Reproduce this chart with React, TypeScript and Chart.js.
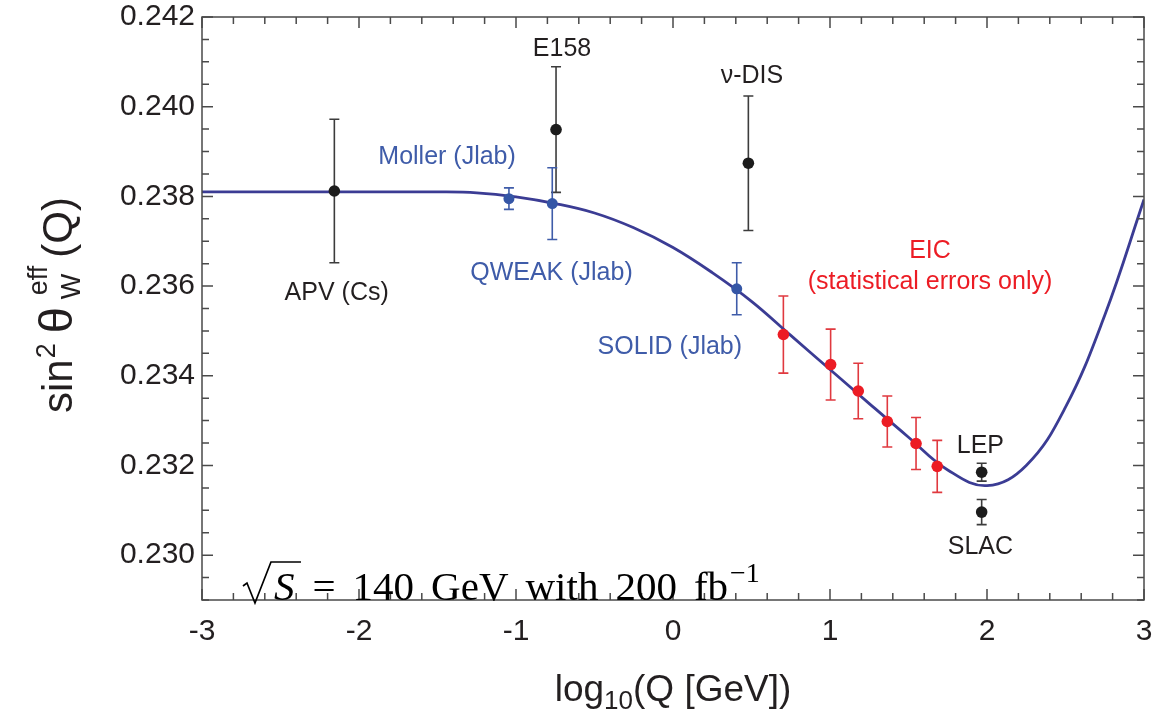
import React, { useEffect, useRef } from "react";
import { Chart, registerables } from "chart.js";

Chart.register(...registerables);

// ---------- data ----------
const xTickValues = [-3, -2, -1, 0, 1, 2, 3];
const yTickValues = [0.23, 0.232, 0.234, 0.236, 0.238, 0.24, 0.242];

// theory curve sin^2 theta_W(Q)
const curveX = [
  -3.0, -2.5, -2.0, -1.5, -1.25, -1.0, -0.75, -0.5, -0.25, 0.0, 0.25, 0.5, 0.75, 1.0, 1.25, 1.5,
  1.75, 2.0, 2.25, 2.5, 2.75, 3.0,
];
const curveY = [
  0.2381, 0.2381, 0.2381, 0.2381, 0.23808, 0.23799, 0.23784, 0.23763, 0.2373, 0.23686, 0.2363,
  0.23566, 0.2349, 0.23414, 0.23338, 0.23263, 0.2319, 0.23155, 0.232, 0.2333, 0.23535, 0.23793,
];

// existing measurements (black)
const measNames = ["APV (Cs)", "E158", "ν-DIS", "LEP", "SLAC"];
const measX = [-2.157, -0.745, 0.48, 1.966, 1.966];
const measY = [0.23812, 0.23949, 0.23874, 0.23185, 0.23096];
const measErr = [0.0016, 0.0014, 0.0015, 0.0002, 0.00028];

// JLab projections (blue)
const jlabNames = ["Moller (Jlab)", "QWEAK (Jlab)", "SOLID (Jlab)"];
const jlabX = [-1.045, -0.769, 0.406];
const jlabY = [0.23795, 0.23784, 0.23594];
const jlabErr = [0.00024, 0.0008, 0.00058];

// EIC projections (red)
const eicX = [0.703, 1.004, 1.18, 1.365, 1.548, 1.683];
const eicY = [0.23492, 0.23425, 0.23366, 0.23298, 0.23249, 0.23198];
const eicErr = [0.00086, 0.00079, 0.00062, 0.00057, 0.00058, 0.00058];

// ---------- styles ----------
const TEXT = "#231f20";
const BLACK_PT = "#1c1c1c";
const BLACK_ERR = "#3c3c3c";
const BLUE_PT = "#3556a6";
const BLUE_TXT = "#3f5ca9";
const RED_PT = "#ec1c24";
const RED_ERR = "#e0393f";
const CURVE = "#3b3c94";
const SANS = "'Liberation Sans', Arial, sans-serif";
const SERIF = "'Liberation Serif', 'Times New Roman', serif";

// label anchors in data coordinates
const labelSpecs = [
  { text: measNames[0], x: -2.142, y: 0.23585, color: TEXT },
  { text: measNames[1], x: -0.707, y: 0.24129, color: TEXT },
  { text: measNames[2], x: 0.503, y: 0.24069, color: TEXT },
  { text: measNames[3], x: 1.958, y: 0.23244, color: TEXT },
  { text: measNames[4], x: 1.958, y: 0.23018, color: TEXT },
  { text: jlabNames[0], x: -1.439, y: 0.23888, color: BLUE_TXT },
  { text: jlabNames[1], x: -0.774, y: 0.2363, color: BLUE_TXT },
  { text: jlabNames[2], x: -0.02, y: 0.23465, color: BLUE_TXT },
  { text: "EIC", x: 1.637, y: 0.23679, color: RED_PT },
  { text: "(statistical errors only)", x: 1.637, y: 0.23609, color: RED_PT },
];

const toPts = (xs: number[], ys: number[]) => xs.map((x, i) => ({ x, y: ys[i] }));

const errorBarPlugin = {
  id: "errorBars",
  beforeDatasetsDraw(chart: any) {
    const ctx = chart.ctx;
    const ys = chart.scales.y;
    chart.data.datasets.forEach((ds: any, i: number) => {
      if (!ds.errs) return;
      const meta = chart.getDatasetMeta(i);
      ctx.save();
      ctx.strokeStyle = ds.errColor;
      ctx.lineWidth = 1.6;
      meta.data.forEach((el: any, j: number) => {
        const v = ds.data[j].y;
        const e = ds.errs[j];
        const top = ys.getPixelForValue(v + e);
        const bot = ys.getPixelForValue(v - e);
        const x = el.x;
        ctx.beginPath();
        ctx.moveTo(x, top);
        ctx.lineTo(x, bot);
        ctx.moveTo(x - 5, top);
        ctx.lineTo(x + 5, top);
        ctx.moveTo(x - 5, bot);
        ctx.lineTo(x + 5, bot);
        ctx.stroke();
      });
      ctx.restore();
    });
  },
};

const framePlugin = {
  id: "frame",
  afterDatasetsDraw(chart: any) {
    const ctx = chart.ctx;
    const { left, right, top, bottom } = chart.chartArea;
    const xs = chart.scales.x;
    const ys = chart.scales.y;
    ctx.save();
    ctx.strokeStyle = "#4a4a4a";
    ctx.lineWidth = 1.5;
    ctx.strokeRect(left, top, right - left, bottom - top);
    ctx.beginPath();
    for (let k = -15; k <= 15; k++) {
      const v = k / 5;
      const px = xs.getPixelForValue(v);
      const len = k % 5 === 0 ? 11 : 7;
      ctx.moveTo(px, bottom);
      ctx.lineTo(px, bottom - len);
      ctx.moveTo(px, top);
      ctx.lineTo(px, top + len);
    }
    for (let k = 458; k <= 484; k++) {
      const v = k / 2000;
      const py = ys.getPixelForValue(v);
      const len = k % 4 === 0 ? 11 : 7;
      ctx.moveTo(left, py);
      ctx.lineTo(left + len, py);
      ctx.moveTo(right, py);
      ctx.lineTo(right - len, py);
    }
    ctx.stroke();
    ctx.restore();
  },
  afterDraw(chart: any) {
    const ctx = chart.ctx;
    const xs = chart.scales.x;
    const ys = chart.scales.y;
    ctx.save();
    // annotations
    ctx.font = `25px ${SANS}`;
    ctx.textAlign = "center";
    ctx.textBaseline = "middle";
    labelSpecs.forEach((l) => {
      ctx.fillStyle = l.color;
      ctx.fillText(l.text, xs.getPixelForValue(l.x), ys.getPixelForValue(l.y));
    });

    // x title: log10(Q [GeV])
    const cx = (chart.chartArea.left + chart.chartArea.right) / 2;
    const base = 701;
    ctx.fillStyle = TEXT;
    ctx.textBaseline = "alphabetic";
    ctx.textAlign = "left";
    const big = `37px ${SANS}`;
    const sub = `26px ${SANS}`;
    ctx.font = big;
    const w1 = ctx.measureText("log").width;
    const w3 = ctx.measureText("(Q [GeV])").width;
    ctx.font = sub;
    const w2 = ctx.measureText("10").width;
    const x0 = cx - (w1 + w2 + w3) / 2;
    ctx.font = big;
    ctx.fillText("log", x0, base);
    ctx.font = sub;
    ctx.fillText("10", x0 + w1, base + 8);
    ctx.font = big;
    ctx.fillText("(Q [GeV])", x0 + w1 + w2, base);

    // y title: sin^2 theta_W^eff (Q)
    ctx.save();
    ctx.translate(72, 305);
    ctx.rotate(-Math.PI / 2);
    const fMain = `42px ${SANS}`;
    const fTheta = `47px ${SANS}`;
    const fSmall = `27px ${SANS}`;
    ctx.font = fMain;
    const a1 = ctx.measureText("sin").width;
    const a5 = ctx.measureText("(Q)").width;
    ctx.font = fTheta;
    const a3 = ctx.measureText("θ").width;
    ctx.font = fSmall;
    const a2 = ctx.measureText("2").width;
    const aW = ctx.measureText("W").width;
    const aE = ctx.measureText("eff").width;
    const subW = Math.max(aW, aE + 4);
    const g1 = 11;
    const g2 = 8;
    const g3 = 8;
    const total = a1 + a2 + g1 + a3 + g2 + subW + g3 + a5;
    let u = -total / 2;
    ctx.font = fMain;
    ctx.fillText("sin", u, 0);
    u += a1;
    ctx.font = fSmall;
    ctx.fillText("2", u + 1, -17);
    u += a2 + g1;
    ctx.font = fTheta;
    ctx.fillText("θ", u, 0);
    u += a3 + g2;
    ctx.font = fSmall;
    ctx.fillText("W", u, 8);
    ctx.fillText("eff", u + 4, -25);
    u += subW + g3;
    ctx.font = fMain;
    ctx.fillText("(Q)", u, 0);
    ctx.restore();

    // sqrt(S) = 140 GeV with 200 fb^-1
    const ax = xs.getPixelForValue(-2.739);
    const by = ys.getPixelForValue(0.229);
    ctx.strokeStyle = "#000";
    ctx.fillStyle = "#000";
    ctx.lineWidth = 1.7;
    ctx.beginPath();
    ctx.moveTo(ax, by - 14);
    ctx.lineTo(ax + 4, by - 17);
    ctx.lineTo(ax + 12, by + 3);
    ctx.lineTo(ax + 28, by - 38);
    ctx.lineTo(ax + 58, by - 38);
    ctx.stroke();
    ctx.font = `italic 41px ${SERIF}`;
    ctx.fillText("S", ax + 31, by);
    let tx = ax + 31 + ctx.measureText("S").width + 18;
    ctx.font = `41px ${SERIF}`;
    const words = ["=", "140", "GeV", "with", "200", "fb"];
    words.forEach((w, i) => {
      ctx.fillText(w, tx, by);
      tx += ctx.measureText(w).width + (i < words.length - 1 ? 17 : 2);
    });
    ctx.font = `28px ${SERIF}`;
    ctx.fillText("−1", tx, by - 18);
    ctx.restore();
  },
};

export default function App() {
  const ref = useRef<HTMLCanvasElement | null>(null);
  useEffect(() => {
    document.body.style.margin = "0";
    const canvas = ref.current;
    if (!canvas) return;
    const chart = new Chart(canvas, {
      type: "scatter",
      data: {
        datasets: [
          {
            label: "theory",
            data: toPts(curveX, curveY),
            showLine: true,
            borderColor: CURVE,
            borderWidth: 2.8,
            pointRadius: 0,
            tension: 0.4,
            order: 4,
          } as any,
          {
            label: "measurements",
            data: toPts(measX, measY),
            pointRadius: 5.8,
            pointBackgroundColor: BLACK_PT,
            pointBorderWidth: 0,
            errs: measErr,
            errColor: BLACK_ERR,
            order: 1,
          } as any,
          {
            label: "jlab",
            data: toPts(jlabX, jlabY),
            pointRadius: 5.5,
            pointBackgroundColor: BLUE_PT,
            pointBorderWidth: 0,
            errs: jlabErr,
            errColor: BLUE_TXT,
            order: 2,
          } as any,
          {
            label: "eic",
            data: toPts(eicX, eicY),
            pointRadius: 5.8,
            pointBackgroundColor: RED_PT,
            pointBorderWidth: 0,
            errs: eicErr,
            errColor: RED_ERR,
            order: 3,
          } as any,
        ],
      },
      options: {
        animation: false,
        responsive: false,
        devicePixelRatio: 1,
        layout: { padding: { top: 17, right: 32, left: 0, bottom: 0 } },
        plugins: { legend: { display: false }, tooltip: { enabled: false } },
        scales: {
          x: {
            type: "linear",
            min: -3,
            max: 3,
            grid: { display: false, drawTicks: false },
            border: { display: false },
            afterBuildTicks: (s: any) => {
              s.ticks = xTickValues.map((v) => ({ value: v }));
            },
            afterFit: (s: any) => {
              s.height = 113;
              s.paddingLeft = 0;
              s.paddingRight = 0;
            },
            ticks: {
              autoSkip: false,
              maxRotation: 0,
              padding: 14,
              color: TEXT,
              font: { family: SANS, size: 30 },
              callback: (v: any) => String(v),
            },
          },
          y: {
            type: "linear",
            min: 0.229,
            max: 0.242,
            grid: { display: false, drawTicks: false },
            border: { display: false },
            afterBuildTicks: (s: any) => {
              s.ticks = yTickValues.map((v) => ({ value: v }));
            },
            afterFit: (s: any) => {
              s.width = 202;
              s.paddingTop = 0;
              s.paddingBottom = 0;
            },
            ticks: {
              autoSkip: false,
              padding: 7,
              color: TEXT,
              font: { family: SANS, size: 30 },
              callback: (v: any) => Number(v).toFixed(3),
            },
          },
        },
      } as any,
      plugins: [errorBarPlugin, framePlugin],
    });
    return () => chart.destroy();
  }, []);
  return (
    <div style={{ width: 1176, height: 713, background: "#fff" }}>
      <canvas ref={ref} width={1176} height={713} style={{ display: "block" }} />
    </div>
  );
}
